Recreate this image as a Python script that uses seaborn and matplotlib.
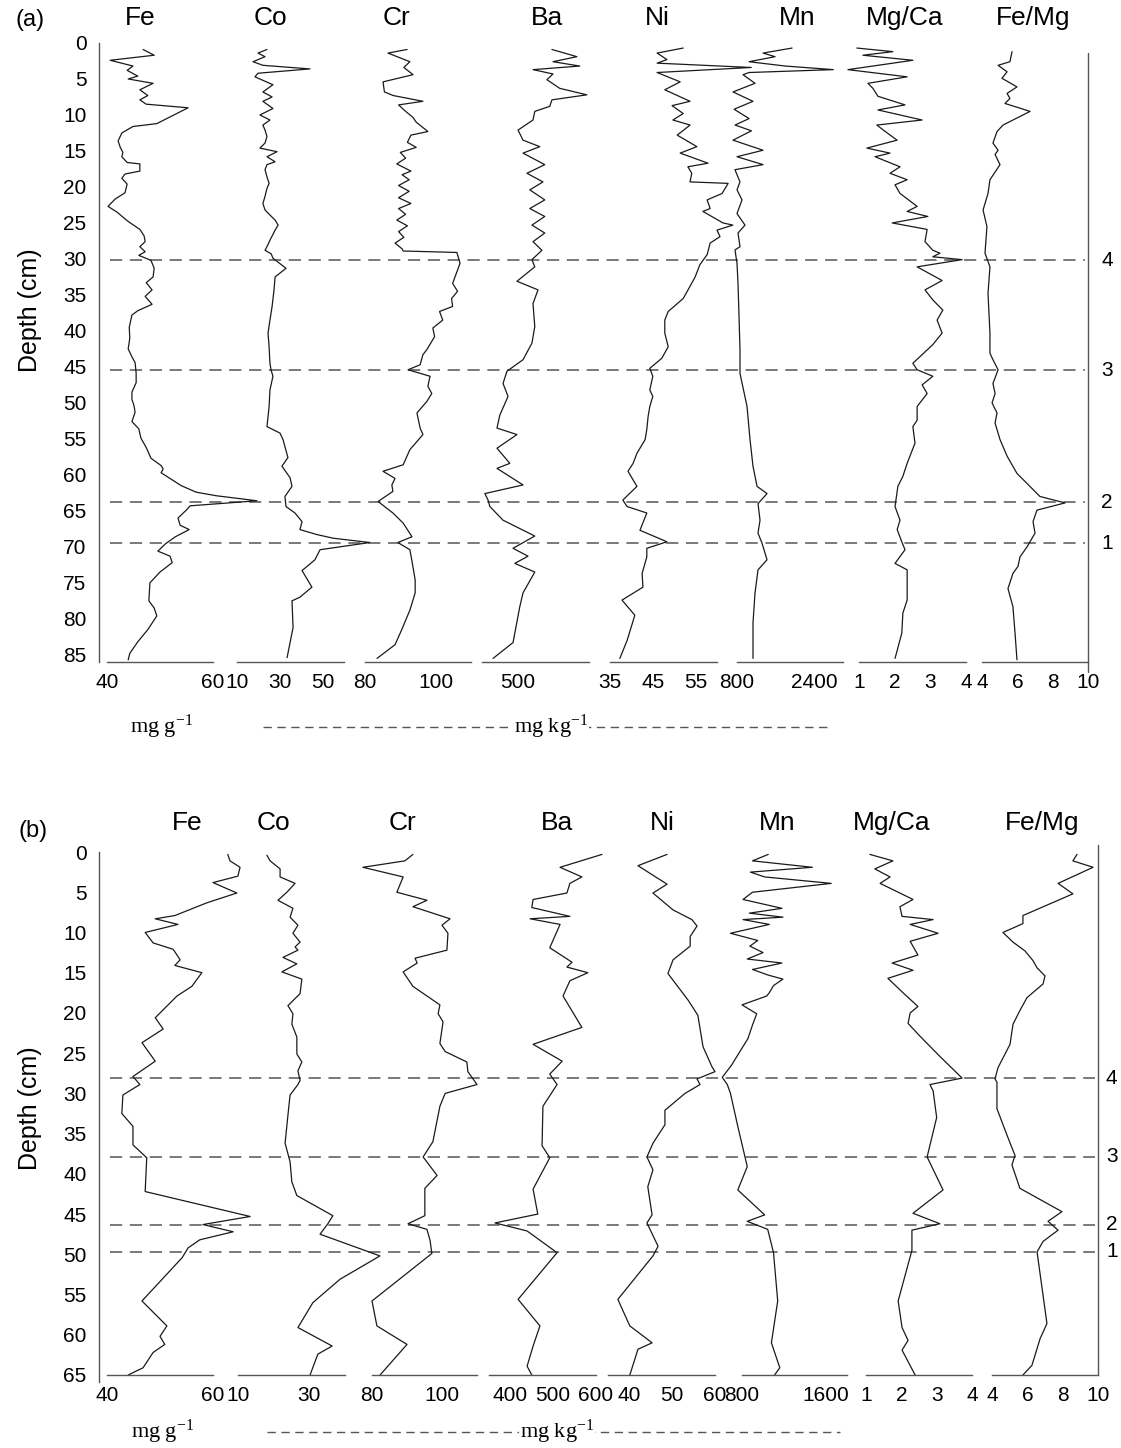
import matplotlib
matplotlib.use('Agg')
import matplotlib.pyplot as plt
import seaborn as sns
from matplotlib.lines import Line2D

W, H = 1121, 1448

ELEMENTS = ['Fe', 'Co', 'Cr', 'Ba', 'Ni', 'Mn', 'Mg/Ca', 'Fe/Mg']
horizon_labels = ['1', '2', '3', '4']

# ---------------- core (a) ----------------
a_fe_depth = [0.9, 1.7, 2.4, 3.2, 3.8, 4.6, 5.0, 5.6, 6.5, 7.3, 7.9, 8.5, 9.0, 11.2, 11.6, 12.5,
              13.6, 14.5, 15.2, 15.8, 16.6, 16.8, 17.8, 18.2, 18.8, 19.6, 20.8, 21.7, 22.7, 23.5,
              24.8, 25.9, 26.8, 27.6, 28.3, 29.0, 29.5, 30.2, 31.3, 32.5, 33.3, 34.3, 35.2, 36.3,
              37.2, 37.8, 39.5, 41.0, 42.5, 43.6, 44.4, 45.9, 47.2, 48.5, 49.5, 50.4, 51.3, 52.6,
              53.6, 54.9, 56.2, 57.7, 58.7, 59.2, 59.7, 60.6, 61.5, 62.4, 62.9, 63.6, 64.3, 64.8,
              66.0, 67.0, 67.6, 68.6, 69.6, 70.6, 71.3, 72.2, 73.5, 75.0, 77.5, 78.5, 79.6, 81.5,
              83.2, 84.8, 85.7]
a_fe = [46.8, 48.9, 40.6, 44.9, 43.8, 45.8, 44.0, 48.7, 46.2, 47.7, 46.2, 47.4, 55.3, 49.4, 44.9,
        42.8, 42.1, 42.5, 43.0, 42.8, 43.8, 46.2, 46.2, 43.4, 42.8, 43.8, 43.4, 41.5, 40.2, 41.9,
        44.0, 46.2, 47.0, 47.2, 46.2, 47.2, 46.0, 48.3, 48.9, 48.7, 47.4, 48.5, 47.2, 48.5, 45.8,
        44.7, 44.2, 44.3, 44.0, 44.7, 45.3, 45.5, 45.5, 44.7, 44.7, 45.1, 45.3, 44.7, 46.0, 46.4,
        47.4, 48.3, 50.2, 50.6, 50.2, 52.1, 54.0, 56.8, 60.6, 68.3, 55.7, 55.1, 53.4, 53.8, 55.5,
        52.9, 51.0, 49.6, 51.9, 52.3, 50.0, 48.1, 47.9, 48.9, 49.4, 47.7, 45.8, 44.3, 44.0]

a_co_depth = [0.9, 1.4, 1.9, 2.6, 3.1, 3.6, 4.2, 4.7, 5.8, 6.8, 7.5, 8.1, 9.1, 10.0, 10.7, 11.4,
              12.1, 13.0, 13.9, 14.6, 15.1, 15.8, 16.5, 16.9, 17.6, 18.6, 19.5, 20.2, 21.3, 22.3,
              23.2, 23.9, 24.6, 25.3, 26.0, 27.4, 28.3, 28.8, 29.3, 29.9, 31.3, 32.5, 34.3, 36.6,
              38.5, 40.3, 42.2, 44.5, 45.4, 46.3, 48.2, 50.5, 53.3, 54.2, 55.1, 57.6, 58.8, 60.4,
              61.6, 63.0, 64.4, 65.3, 66.5, 67.6, 68.3, 68.8, 69.4, 70.4, 71.8, 73.3, 75.6, 77.0,
              77.5, 81.2, 83.3, 85.4]
a_co = [24.0, 19.8, 23.1, 17.5, 22.1, 44.1, 19.8, 18.4, 26.8, 22.1, 26.4, 22.1, 26.8, 20.7, 25.4,
        22.1, 23.1, 24.0, 23.1, 20.7, 28.7, 24.0, 27.8, 24.0, 23.1, 24.0, 25.0, 24.0, 23.1, 22.1,
        23.1, 25.4, 27.8, 29.2, 27.8, 25.4, 24.0, 23.1, 26.0, 26.8, 32.9, 27.8, 27.3, 26.4, 25.4,
        24.5, 25.0, 25.4, 25.9, 26.8, 25.4, 25.0, 24.0, 30.1, 31.5, 33.8, 31.0, 34.8, 35.7, 32.4,
        32.9, 37.1, 40.4, 39.4, 47.4, 54.9, 72.1, 48.8, 46.4, 40.4, 45.0, 39.4, 35.7, 36.2, 34.8,
        33.4]

a_cr_depth = [0.9, 1.4, 2.6, 3.4, 4.4, 5.4, 6.8, 7.3, 8.1, 8.6, 9.5, 10.3, 11.0, 12.3, 12.8, 13.8,
              14.5, 15.2, 16.0, 16.8, 17.8, 18.3, 19.0, 19.8, 20.6, 21.5, 22.3, 23.0, 23.8, 24.6,
              25.4, 26.2, 27.0, 27.8, 28.6, 28.9, 29.1, 30.6, 33.4, 34.5, 35.5, 36.6, 37.3, 38.5,
              39.6, 40.8, 42.6, 43.3, 44.7, 45.4, 46.3, 47.7, 48.7, 49.8, 51.4, 53.5, 54.4, 56.5,
              58.6, 59.5, 60.5, 61.4, 62.3, 63.7, 65.3, 66.7, 68.6, 69.4, 70.4, 72.0, 74.6, 76.4,
              78.8, 81.5, 83.6, 85.5]
a_cr = [91.9, 86.5, 92.7, 91.0, 93.6, 85.1, 85.5, 88.0, 96.4, 89.5, 91.5, 93.5, 94.5, 97.8, 93.0,
        92.0, 94.5, 90.0, 91.5, 89.0, 93.0, 90.5, 92.5, 89.5, 92.5, 89.5, 93.0, 89.5, 91.5, 89.0,
        92.0, 89.5, 91.0, 88.5, 90.5, 90.8, 106.0, 106.9, 104.8, 106.2, 104.5, 104.8, 101.1, 102.0,
        99.2, 99.7, 97.5, 96.4, 95.6, 92.2, 98.4, 97.8, 98.9, 97.5, 94.7, 95.6, 96.4, 92.7, 90.8,
        85.1, 88.5, 87.6, 87.9, 83.7, 87.9, 90.8, 93.3, 89.3, 92.7, 93.3, 94.2, 94.2, 92.7, 90.4,
        88.5, 83.4]

a_ba_depth = [0.9, 1.9, 2.6, 3.2, 3.7, 4.3, 5.1, 6.3, 7.2, 7.9, 8.8, 9.5, 10.7, 12.1, 13.5, 14.4,
              15.3, 16.9, 18.1, 19.3, 20.4, 21.8, 23.0, 24.1, 25.3, 26.4, 27.6, 28.8, 30.1, 31.1,
              33.1, 34.3, 36.2, 39.4, 41.7, 44.0, 45.6, 47.3, 49.1, 51.7, 53.5, 54.4, 56.3, 58.4,
              59.1, 61.4, 62.6, 63.5, 64.4, 66.3, 68.5, 70.2, 71.3, 72.3, 73.5, 76.4, 78.3, 83.3,
              85.5]
a_ba = [596, 666, 599, 674, 543, 599, 582, 618, 694, 596, 590, 548, 543, 501, 515, 562, 515, 576,
        526, 571, 534, 576, 534, 576, 540, 576, 543, 568, 540, 548, 498, 557, 543, 548, 540, 515,
        470, 459, 473, 450, 442, 498, 442, 478, 442, 515, 408, 417, 422, 459, 548, 487, 529, 492,
        548, 515, 506, 487, 431]

a_ni_depth = [0.7, 1.4, 2.3, 2.8, 3.4, 4.1, 5.4, 6.5, 8.1, 8.7, 9.8, 10.7, 11.4, 12.8, 14.4, 15.3,
              16.7, 17.2, 18.1, 19.3, 19.5, 20.9, 21.8, 23.0, 23.4, 25.0, 25.3, 26.0, 26.9, 27.8,
              29.4, 30.8, 32.5, 33.8, 35.5, 37.3, 38.5, 40.3, 42.2, 43.8, 45.2, 46.3, 48.2, 49.1,
              50.5, 51.9, 53.7, 55.1, 57.0, 58.4, 59.5, 61.6, 63.5, 64.4, 65.3, 67.7, 69.3, 70.2,
              71.4, 73.7, 75.6, 77.4, 79.5, 83.0, 85.5]
a_ni = [52.1, 46.0, 48.3, 46.0, 68.0, 46.0, 51.4, 47.8, 53.7, 49.5, 52.1, 49.7, 53.7, 50.7, 55.3,
        51.4, 57.9, 53.2, 54.1, 53.7, 62.6, 61.2, 57.7, 58.4, 56.7, 61.4, 63.7, 60.0, 60.7, 58.4,
        57.7, 56.0, 54.9, 53.7, 52.1, 48.6, 47.8, 47.8, 48.6, 47.1, 44.3, 45.0, 44.3, 45.0, 44.3,
        43.9, 43.6, 43.2, 41.3, 40.4, 39.2, 41.3, 38.0, 39.0, 43.6, 42.0, 48.3, 43.6, 43.6, 42.5,
        42.7, 37.8, 40.8, 39.0, 37.3]

a_mn_depth = [0.7, 1.4, 1.9, 2.6, 3.2, 3.7, 4.1, 4.4, 5.6, 6.8, 8.1, 9.2, 10.5, 11.4, 12.2, 13.5,
              14.9, 15.8, 16.9, 17.6, 19.3, 20.4, 21.8, 23.7, 25.3, 26.4, 28.3, 28.75, 30.6, 33.4,
              38.0, 42.6, 45.9, 50.5, 55.1, 58.8, 61.6, 62.6, 64.0, 66.3, 68.1, 69.5, 71.8, 73.2,
              76.4, 80.6, 85.5]
a_mn = [1943, 1340, 1590, 1050, 1800, 2800, 1050, 925, 1174, 717, 1132, 740, 1050, 760, 1100, 717,
        1340, 800, 1340, 758, 862, 800, 904, 800, 966, 821, 862, 758, 800, 821, 842, 862, 862, 1008,
        1070, 1132, 1216, 1423, 1236, 1278, 1236, 1320, 1423, 1236, 1174, 1132, 1132]

a_mgca_depth = [0.7, 1.2, 1.7, 2.4, 3.7, 4.7, 5.6, 6.3, 7.4, 8.6, 9.3, 10.7, 11.4, 12.5, 13.5, 14.6,
                15.3, 15.8, 17.2, 18.1, 19.0, 19.7, 20.9, 22.7, 23.4, 24.1, 25.0, 25.9, 27.6, 28.8,
                29.2, 29.7, 30.1, 31.1, 33.0, 34.3, 35.7, 37.1, 38.5, 40.3, 41.9, 44.5, 45.4, 46.3,
                47.5, 48.7, 50.5, 52.4, 53.3, 55.6, 58.4, 60.2, 61.6, 64.4, 66.3, 67.6, 69.3, 70.4,
                72.3, 73.2, 77.4, 79.2, 82.0, 85.5]
a_mgca = [0.94, 1.95, 1.11, 2.51, 0.69, 2.35, 1.25, 1.39, 1.53, 2.29, 1.53, 2.77, 1.50, 1.79, 2.07,
          1.22, 1.87, 1.45, 2.15, 1.87, 2.35, 2.01, 2.15, 2.63, 2.35, 2.93, 1.93, 2.91, 2.85, 3.07,
          3.27, 3.07, 3.89, 2.63, 3.33, 2.85, 3.07, 3.35, 3.19, 3.33, 3.07, 2.51, 2.63, 3.07, 2.77,
          2.91, 2.63, 2.63, 2.51, 2.57, 2.35, 2.23, 2.09, 2.01, 2.15, 2.07, 2.20, 2.29, 2.01, 2.35,
          2.35, 2.23, 2.20, 2.01]

a_femg_depth = [1.2, 2.6, 3.1, 4.0, 4.9, 6.1, 7.0, 7.7, 8.4, 9.5, 11.4, 12.3, 13.9, 14.9, 15.5, 16.9,
                19.0, 20.9, 23.2, 25.5, 29.2, 31.1, 34.8, 40.3, 43.1, 44.0, 45.4, 47.3, 48.7, 50.0,
                51.4, 52.8, 55.1, 57.4, 59.8, 61.2, 63.0, 63.9, 64.9, 66.5, 68.1, 70.0, 71.4, 72.7,
                73.7, 75.8, 78.3, 82.0, 85.7]
a_femg = [5.70, 5.58, 4.91, 5.42, 5.13, 5.98, 5.42, 5.58, 5.30, 6.72, 5.19, 4.85, 4.62, 4.91, 4.74,
          5.02, 4.45, 4.34, 4.06, 4.28, 4.17, 4.45, 4.34, 4.45, 4.45, 4.62, 4.91, 4.62, 4.74, 4.57,
          4.85, 4.74, 5.02, 5.42, 5.98, 6.55, 7.28, 8.70, 7.11, 6.89, 7.00, 6.55, 6.15, 6.04, 5.75,
          5.47, 5.75, 5.87, 5.98]

a_horizons = [69.5, 63.8, 45.5, 30.2]
a_xlims = [(40, 60), (10, 60), (80, 110), (400, 700), (35, 60), (800, 3000), (1, 4), (4, 10)]
a_major = [[40, 60], [10, 20, 30, 40, 50, 60], [80, 90, 100, 110], [400, 500, 600, 700],
           [35, 40, 45, 50, 55, 60], [800, 1600, 2400], [1, 2, 3, 4], [4, 6, 8, 10]]
a_minor = [[50], [15, 25, 35, 45, 55], [85, 95, 105], [], [37.5, 42.5, 47.5, 52.5, 57.5],
           [1200, 2000, 2800], [1.5, 2.5, 3.5], [5, 7, 9]]
a_ticklabels = [['40', '60'], ['10', '', '30', '', '50', ''], ['80', '', '100', ''],
                ['', '500', '', ''], ['35', '', '45', '', '55', ''], ['800', '', '2400'],
                ['1', '2', '3', '4'], ['4', '6', '8', '10']]

# ---------------- core (b) ----------------
b_fe_depth = [0.3, 1.1, 1.9, 3.0, 3.8, 5.1, 6.3, 7.9, 8.3, 9.0, 10.0, 11.3, 12.1, 13.4, 14.1, 15.0,
              16.7, 17.9, 20.6, 22.0, 23.7, 26.0, 27.9, 28.9, 30.2, 32.5, 34.1, 36.4, 38.0, 42.2,
              45.3, 46.3, 47.2, 48.2, 49.2, 50.4, 55.8, 58.9, 60.2, 61.2, 62.2, 64.1, 65.0]
b_fe = [62.8, 63.2, 65.1, 64.7, 60.0, 64.5, 58.9, 52.8, 49.1, 53.4, 47.2, 48.7, 52.5, 53.8, 52.8,
        57.9, 56.0, 53.2, 49.1, 50.6, 46.6, 49.1, 44.9, 46.2, 43.0, 42.8, 44.9, 44.9, 47.5, 47.2,
        67.0, 58.1, 63.8, 57.5, 55.3, 54.2, 46.6, 51.3, 50.0, 50.9, 48.7, 46.8, 44.0]

b_co_depth = [0.4, 1.1, 2.1, 3.1, 3.9, 5.0, 6.0, 7.0, 8.1, 9.1, 10.1, 11.2, 11.8, 12.2, 13.1, 13.9,
              14.9, 15.8, 17.6, 19.1, 20.1, 21.4, 23.0, 25.1, 26.1, 27.2, 28.4, 28.9, 30.2, 32.7,
              36.2, 38.5, 41.0, 42.7, 45.2, 46.2, 47.5, 50.2, 53.1, 56.0, 59.1, 61.4, 62.4, 65.0]
b_co = [18.1, 19.0, 21.8, 21.8, 26.0, 23.7, 21.2, 25.4, 24.6, 26.8, 25.4, 27.4, 26.0, 26.8, 22.6,
        26.5, 22.3, 27.9, 27.4, 24.0, 25.4, 25.1, 26.5, 26.5, 27.9, 26.8, 27.4, 26.8, 24.6, 24.0,
        23.2, 24.6, 25.1, 26.5, 36.6, 35.2, 33.0, 49.8, 38.6, 31.0, 26.8, 36.4, 32.4, 30.2]

b_cr_depth = [0.3, 1.1, 1.9, 3.1, 5.0, 6.0, 6.8, 8.3, 9.1, 10.1, 12.2, 13.2, 13.8, 14.9, 16.7, 19.0,
              20.1, 21.1, 23.8, 24.8, 26.1, 27.3, 28.9, 30.0, 31.6, 36.0, 37.9, 40.2, 41.8, 45.2,
              46.2, 46.9, 48.3, 49.9, 55.8, 58.9, 61.2, 65.0]
b_cr = [91.7, 89.4, 77.4, 88.9, 87.1, 95.7, 91.7, 102.3, 100.0, 101.7, 101.4, 92.3, 92.9, 88.9,
        91.7, 99.4, 98.9, 100.3, 99.4, 100.9, 107.1, 107.4, 110.0, 100.9, 99.4, 97.4, 94.6, 98.6,
        95.1, 95.1, 90.3, 95.7, 96.6, 97.1, 80.0, 81.4, 90.0, 82.3]

b_ba_depth = [0.3, 1.9, 3.1, 3.9, 5.1, 5.9, 6.9, 8.0, 8.3, 9.0, 11.9, 13.7, 14.3, 15.0, 16.0, 17.9,
              21.8, 23.9, 26.0, 27.6, 28.9, 31.6, 36.5, 38.0, 41.9, 45.0, 46.1, 47.1, 49.8, 55.6,
              58.9, 61.4, 63.9, 65.0]
b_ba = [614, 516, 567, 539, 532, 453, 450, 539, 446, 516, 492, 544, 532, 581, 539, 523, 567, 453,
        521, 492, 509, 476, 474, 492, 453, 464, 364, 439, 509, 418, 469, 453, 439, 450]

b_ni_depth = [0.3, 1.7, 4.0, 5.1, 7.2, 8.4, 9.2, 10.5, 11.7, 13.4, 15.1, 18.4, 20.3, 24.2, 26.7,
              27.3, 28.2, 28.9, 30.0, 32.1, 33.9, 36.2, 37.9, 39.5, 41.6, 45.1, 46.1, 49.0, 50.2,
              55.6, 58.9, 61.0, 61.8, 65.0]
b_ni = [48.8, 42.0, 48.8, 45.5, 50.2, 54.6, 55.8, 54.2, 54.2, 50.2, 49.0, 53.7, 56.0, 57.2, 59.3,
        60.0, 55.8, 56.5, 53.0, 48.3, 48.3, 45.5, 44.1, 45.5, 44.3, 45.3, 44.1, 46.7, 45.5, 37.3,
        40.1, 45.3, 42.0, 40.1]

b_mn_depth = [0.3, 1.1, 1.9, 2.5, 3.1, 3.9, 5.0, 5.9, 7.0, 7.6, 8.1, 8.4, 9.0, 10.1, 11.0, 11.7,
              12.5, 13.3, 13.8, 14.6, 15.3, 15.8, 16.6, 17.5, 17.9, 19.0, 20.1, 21.5, 23.2, 24.8,
              26.5, 28.0, 28.9, 30.0, 34.1, 39.1, 42.0, 45.1, 45.9, 46.9, 49.8, 55.8, 61.0, 64.1,
              65.0]
b_mn = [1050, 900, 1470, 880, 1016, 1650, 900, 810, 1180, 870, 1190, 810, 1060, 690, 950, 875, 1000,
        850, 1180, 900, 1050, 1190, 1100, 1060, 1035, 800, 940, 900, 856, 780, 700, 612, 660, 690,
        760, 850, 760, 1016, 850, 1045, 1100, 1140, 1080, 1160, 1110]

b_mgca_depth = [0.3, 1.1, 2.1, 3.1, 3.9, 5.9, 6.8, 8.0, 8.4, 9.0, 10.1, 11.1, 12.8, 13.8, 14.7, 15.7,
                17.5, 19.2, 20.0, 21.3, 22.9, 25.4, 28.1, 28.9, 29.7, 33.0, 37.9, 42.0, 44.9, 46.2,
                47.0, 49.5, 55.8, 59.1, 60.7, 61.9, 65.0]
b_mgca = [1.11, 1.76, 1.25, 1.68, 1.40, 2.33, 1.96, 2.02, 2.90, 2.25, 3.04, 2.25, 2.47, 1.74, 2.33,
          1.62, 2.05, 2.47, 2.25, 2.19, 2.53, 3.09, 3.72, 2.81, 2.90, 3.00, 2.73, 3.18, 2.33, 3.09,
          2.30, 2.30, 1.91, 2.02, 2.19, 2.02, 2.39]

b_femg_depth = [0.3, 1.1, 1.9, 3.9, 5.2, 7.9, 8.9, 10.0, 11.2, 12.3, 13.5, 14.4, 15.4, 16.4, 18.1,
                19.7, 21.4, 23.9, 26.8, 28.2, 28.6, 31.9, 35.2, 37.7, 38.9, 41.8, 44.7, 45.9, 47.0,
                48.4, 49.7, 58.6, 60.5, 63.8, 65.0]
b_femg = [8.81, 8.58, 9.72, 7.74, 8.58, 5.75, 5.75, 4.62, 5.19, 5.87, 6.32, 6.55, 7.00, 6.89, 5.98,
          5.58, 5.19, 5.02, 4.34, 4.17, 4.28, 4.28, 4.85, 5.30, 5.13, 5.58, 7.96, 7.17, 7.74, 6.89,
          6.55, 7.11, 6.72, 6.26, 5.75]

b_horizons = [49.7, 46.3, 37.9, 28.1]
b_xlims = [(40, 60), (10, 40), (80, 110), (350, 600), (35, 60), (800, 1800), (1, 4), (4, 10)]
b_major = [[40, 60], [10, 20, 30, 40], [80, 90, 100, 110], [400, 500, 600], [40, 50, 60],
           [800, 1600], [1, 2, 3, 4], [4, 6, 8, 10]]
b_minor = [[50], [15, 25, 35], [85, 95, 105], [350, 450, 550], [35, 45, 55], [1200],
           [1.5, 2.5, 3.5], [5, 7, 9]]
b_ticklabels = [['40', '60'], ['10', '', '30', ''], ['80', '', '100', ''], ['400', '500', '600'],
                ['40', '50', '60'], ['800', '1600'], ['1', '2', '3', '4'], ['4', '6', '8', '10']]

AXIS_GREY = '#555555'
LINE_BLACK = '#1a1a1a'


def px_rect(x0, x1, y0, y1):
    """Figure-fraction rectangle from pixel edges, y counted from the top."""
    return [x0 / W, 1 - y1 / H, (x1 - x0) / W, (y1 - y0) / H]


def draw_panel(fig, traces, xlims, majors, minors, ticklabels, horizons, lay):
    """
    Draws one core: depth axis, the eight element profiles, the dashed
    horizon lines with their numbers and the unit labels underneath.
    """
    top, base, ymax = lay['top'], lay['base'], lay['ymax']
    right = lay['cols'][-1][1]

    # dashed horizons and the right-hand scale line
    over = fig.add_axes(px_rect(99, right, top, base))
    over.set_ylim(ymax, 0)
    over.axis('off')
    trans = over.get_yaxis_transform()
    x_start = 11 / (right - 99)
    x_lab = 1 + lay['hlab_dx'] / (right - 99)
    for d, lab in zip(horizons, horizon_labels):
        over.plot([x_start, 0.997], [d, d], transform=trans, color=AXIS_GREY,
                  lw=1.1, ls=(0, (8, 5)))
        over.text(x_lab, d, lab, transform=trans, ha='left', va='center',
                  fontsize=15, color='black')
    over.plot([1, 1], lay['rline'], transform=trans, color=AXIS_GREY, lw=1,
              clip_on=False)

    # depth axis
    dax = fig.add_axes(px_rect(99, 100, top, lay['dbase']))
    dax.set_facecolor('none')
    dax.set_ylim(lay['dmax'], 0)
    for s in ['top', 'right', 'bottom']:
        dax.spines[s].set_visible(False)
    dax.spines['left'].set_color(AXIS_GREY)
    dax.spines['left'].set_linewidth(1)
    dax.set_xticks([])
    dax.set_yticks(lay['dticks'])
    dax.set_yticks([v for v in range(0, lay['dticks'][-1] + 1)
                    if v not in lay['dticks']], minor=True)
    dax.tick_params(axis='y', which='major', direction='in', length=10,
                    width=1, color=AXIS_GREY, labelsize=15, pad=9,
                    labelcolor='black')
    dax.tick_params(axis='y', which='minor', direction='in', length=5,
                    width=1, color=AXIS_GREY)

    for i, (name, (depth, vals)) in enumerate(zip(ELEMENTS, traces)):
        x0, x1 = lay['cols'][i]
        ax = fig.add_axes(px_rect(x0, x1, top, base))
        ax.set_facecolor('none')
        sns.lineplot(x=vals, y=depth, sort=False, estimator=None,
                     color=LINE_BLACK, lw=0.9, clip_on=False, ax=ax)
        ax.set_xlim(*xlims[i])
        ax.set_ylim(ymax, 0)
        ax.set_xlabel('')
        ax.set_ylabel('')
        for s in ['top', 'right', 'left']:
            ax.spines[s].set_visible(False)
        ax.spines['bottom'].set_color(AXIS_GREY)
        ax.spines['bottom'].set_linewidth(1)
        ax.set_yticks([])
        ax.set_xticks(majors[i])
        ax.set_xticklabels(ticklabels[i])
        ax.set_xticks(minors[i], minor=True)
        ax.tick_params(axis='x', which='major', direction='in', length=9.5,
                       width=1, color=AXIS_GREY, labelsize=15, pad=8,
                       labelcolor='black')
        ax.tick_params(axis='x', which='minor', direction='in', length=5,
                       width=1, color=AXIS_GREY)
        fig.text(lay['title_x'][i] / W, 1 - lay['title_y'] / H, name,
                 ha='center', va='center', fontsize=19)

    fig.text(lay['tag'][0] / W, 1 - lay['tag'][1] / H, lay['tag_text'],
             ha='center', va='center', fontsize=17)
    fig.text(30 / W, 1 - lay['ylabel_y'] / H, 'Depth (cm)', rotation=90,
             ha='center', va='center', fontsize=18)

    # unit labels
    uy = 1 - lay['unit_y'] / H
    fig.add_artist(Line2D([lay['unit_line'][0] / W, lay['unit_line'][1] / W],
                          [uy, uy], transform=fig.transFigure,
                          color=AXIS_GREY, lw=1, ls=(0, (6, 4))))
    fig.text(lay['unit_g'] / W, uy, 'mg g$^{-1}$', ha='center', va='center',
             fontsize=16, family='Liberation Serif')
    fig.text(lay['unit_kg'] / W, uy, 'mg kg$^{-1}$', ha='center',
             va='center', fontsize=16, family='Liberation Serif',
             bbox=dict(facecolor='white', edgecolor='none', pad=1))


def main():
    sns.set_style('white')
    plt.rcParams['font.family'] = ['Liberation Sans', 'DejaVu Sans']
    plt.rcParams['text.color'] = 'black'
    plt.rcParams['mathtext.fontset'] = 'custom'
    plt.rcParams['mathtext.rm'] = 'Liberation Serif'
    plt.rcParams['mathtext.it'] = 'Liberation Serif:italic'
    plt.rcParams['mathtext.bf'] = 'Liberation Serif:bold'

    fig = plt.figure(figsize=(W / 100, H / 100), dpi=100)

    a_traces = [(a_fe_depth, a_fe), (a_co_depth, a_co), (a_cr_depth, a_cr),
                (a_ba_depth, a_ba), (a_ni_depth, a_ni), (a_mn_depth, a_mn),
                (a_mgca_depth, a_mgca), (a_femg_depth, a_femg)]
    a_lay = dict(top=43, base=662, ymax=86, dbase=662, dmax=86,
                 dticks=list(range(0, 90, 5)), rline=[1.4, 87.4], hlab_dx=13,
                 cols=[(107, 213), (237, 344), (365, 471), (482, 589),
                       (610, 717), (737, 843), (859, 966), (982, 1088)],
                 title_x=[140, 270, 397, 547, 657, 797, 905, 1033],
                 title_y=18, tag=(30, 20), tag_text='(a)', ylabel_y=310,
                 unit_y=727, unit_line=(263, 832), unit_g=162, unit_kg=551)
    draw_panel(fig, a_traces, a_xlims, a_major, a_minor, a_ticklabels,
               a_horizons, a_lay)

    b_traces = [(b_fe_depth, b_fe), (b_co_depth, b_co), (b_cr_depth, b_cr),
                (b_ba_depth, b_ba), (b_ni_depth, b_ni), (b_mn_depth, b_mn),
                (b_mgca_depth, b_mgca), (b_femg_depth, b_femg)]
    b_lay = dict(top=852, base=1375, ymax=65, dbase=1382, dmax=65.87,
                 dticks=list(range(0, 70, 5)), rline=[-0.9, 65], hlab_dx=8,
                 cols=[(107, 213), (238, 345), (372, 477), (489, 596),
                       (608, 715), (742, 847), (866, 972), (992, 1098)],
                 title_x=[187, 273, 403, 557, 662, 777, 892, 1042],
                 title_y=823, tag=(33, 831), tag_text='(b)', ylabel_y=1108,
                 unit_y=1432, unit_line=(267, 840), unit_g=163, unit_kg=557)
    draw_panel(fig, b_traces, b_xlims, b_major, b_minor, b_ticklabels,
               b_horizons, b_lay)

    fig.savefig('out.png', dpi=100)


if __name__ == '__main__':
    main()
